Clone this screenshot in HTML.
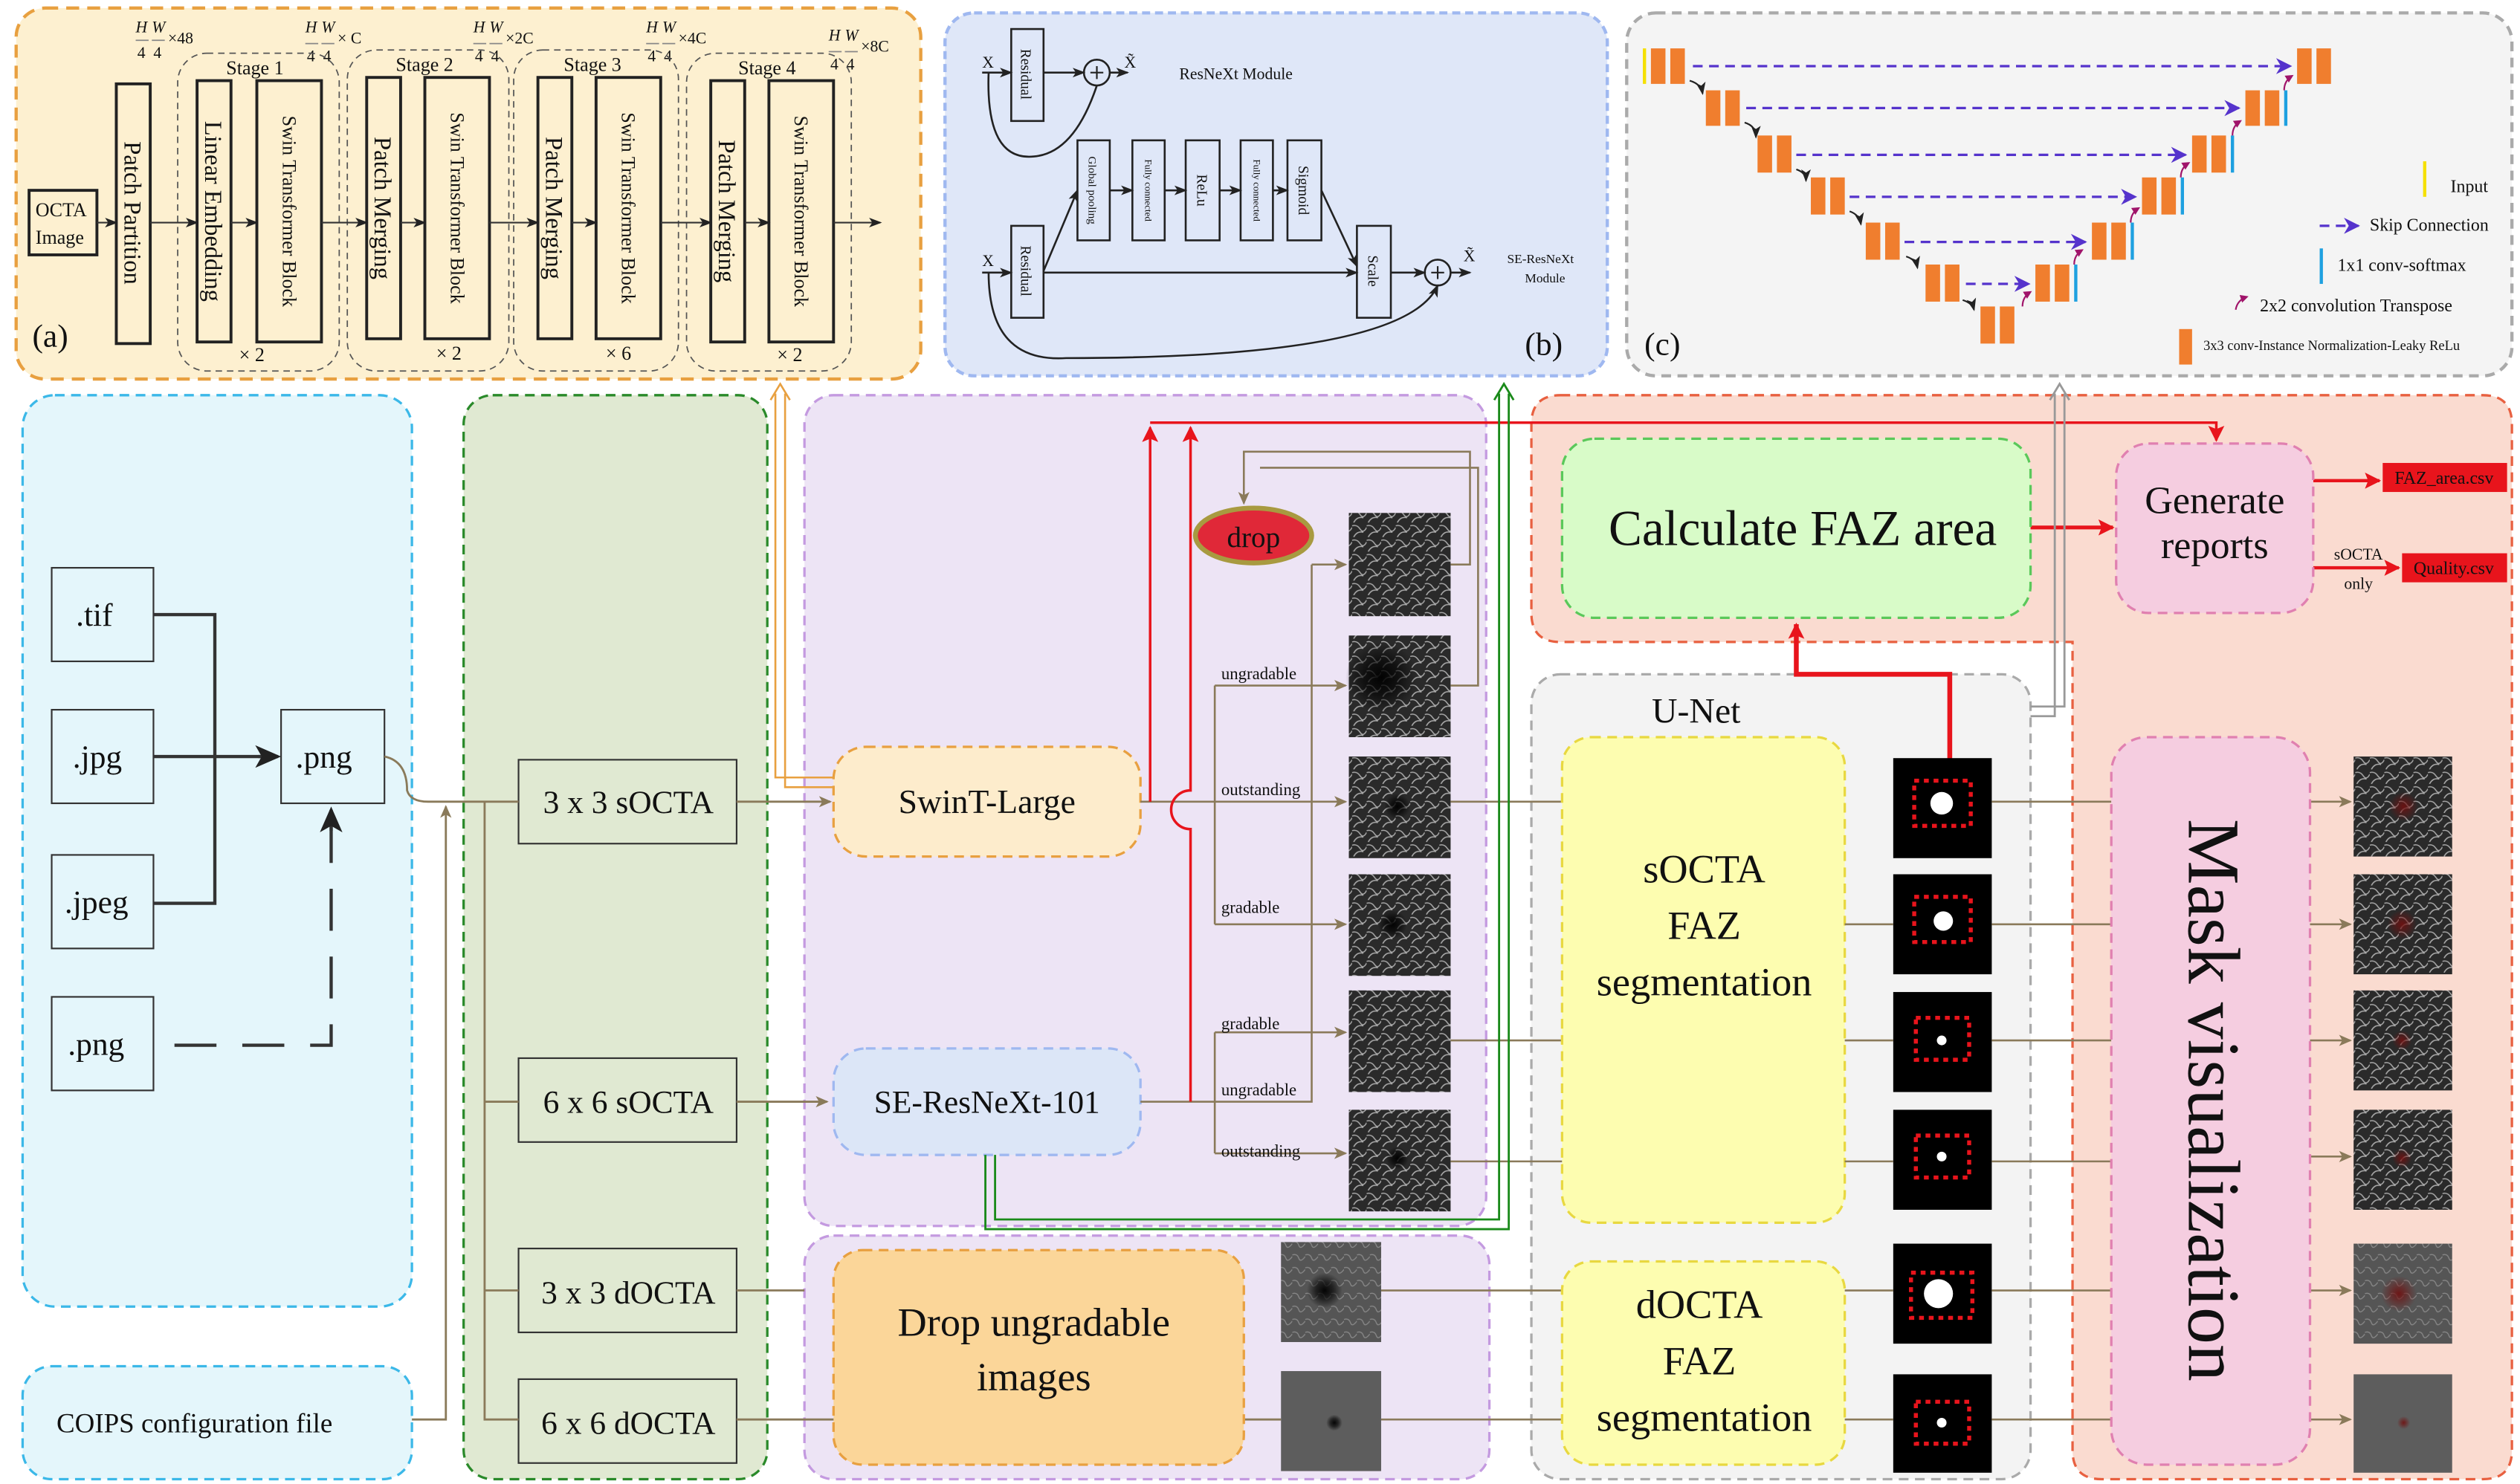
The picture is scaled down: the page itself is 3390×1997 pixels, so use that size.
<!DOCTYPE html>
<html><head><meta charset="utf-8">
<style>
html,body{margin:0;padding:0;background:#fff;}
svg{display:block;font-family:"Liberation Serif",serif;}
text{font-family:"Liberation Serif",serif;fill:#111;}
</style></head><body>
<svg width="3390" height="1997" viewBox="0 0 1560 920" preserveAspectRatio="none" xmlns="http://www.w3.org/2000/svg" font-family="Liberation Serif, serif">
<defs>
<marker id="a" markerWidth="8" markerHeight="8" refX="7" refY="4" orient="auto" markerUnits="userSpaceOnUse"><path d="M0,0.5 L8,4 L0,7.5 L2,4z" fill="#8a7a5a"/></marker>
<marker id="ak" markerWidth="8" markerHeight="8" refX="7" refY="4" orient="auto" markerUnits="userSpaceOnUse"><path d="M0,1 L8,4 L0,7 L2,4z" fill="#222"/></marker>
<marker id="ab" markerWidth="16" markerHeight="14" refX="14" refY="7" orient="auto" markerUnits="userSpaceOnUse"><path d="M0,0 L16,7 L0,14 L4,7z" fill="#222"/></marker>
<marker id="ar" markerWidth="10" markerHeight="10" refX="9" refY="5" orient="auto" markerUnits="userSpaceOnUse"><path d="M0,0 L10,5 L0,10 L2,5z" fill="#e8141c"/></marker>
<marker id="am" markerWidth="5" markerHeight="5" refX="4" refY="2.5" orient="auto" markerUnits="userSpaceOnUse"><path d="M0,0 L5,2.5 L0,5z" fill="#a0146a"/></marker>
<marker id="ap" markerWidth="10" markerHeight="10" refX="9" refY="5" orient="auto" markerUnits="userSpaceOnUse"><path d="M0,0 L10,5 L0,10 L3,5z" fill="#5533cc"/></marker>
<pattern id="ves" width="9" height="9" patternUnits="userSpaceOnUse"><rect width="9" height="9" fill="#2a2a2a"/><path d="M0,2 Q3,1 5,4 T9,3 M1,9 Q3,5 7,6" stroke="#aaa" stroke-width="0.7" fill="none"/></pattern>
<pattern id="dves" width="8" height="8" patternUnits="userSpaceOnUse"><rect width="8" height="8" fill="#555"/><path d="M0,2 Q3,1 4,4 T8,3" stroke="#888" stroke-width="0.6" fill="none"/></pattern>
<radialGradient id="spot"><stop offset="0" stop-color="#000" stop-opacity="0.95"/><stop offset="0.5" stop-color="#000" stop-opacity="0.6"/><stop offset="1" stop-color="#000" stop-opacity="0"/></radialGradient>
<radialGradient id="rspot"><stop offset="0" stop-color="#701010" stop-opacity="0.9"/><stop offset="1" stop-color="#701010" stop-opacity="0"/></radialGradient>
</defs>

<!-- panels -->
<rect x="10" y="5" width="560" height="230" rx="18" fill="#fdf0d0" stroke="#e8a040" stroke-width="2" stroke-dasharray="8,5"/>
<rect x="585" y="8" width="410" height="225" rx="18" fill="#dfe7f8" stroke="#9fb8f0" stroke-width="2" stroke-dasharray="5,3"/>
<rect x="1007" y="8" width="548" height="225" rx="18" fill="#f4f4f4" stroke="#aaa" stroke-width="2" stroke-dasharray="6,4"/>
<rect x="14" y="245" width="241" height="565" rx="20" fill="#e4f6fb" stroke="#3bb8e8" stroke-width="1.5" stroke-dasharray="6,4"/>
<rect x="14" y="847" width="241" height="70" rx="18" fill="#e4f6fb" stroke="#3bb8e8" stroke-width="1.5" stroke-dasharray="6,4"/>
<rect x="287" y="245" width="188" height="672" rx="18" fill="#e0e9d2" stroke="#2a8a2a" stroke-width="1.5" stroke-dasharray="6,4"/>
<rect x="498" y="245" width="422" height="515" rx="18" fill="#ede4f5" stroke="#c49ae0" stroke-width="1.5" stroke-dasharray="6,4"/>
<rect x="498" y="766" width="424" height="151" rx="18" fill="#ede4f5" stroke="#c49ae0" stroke-width="1.5" stroke-dasharray="6,4"/>
<path d="M966,245 H1537 Q1555,245 1555,263 V899 Q1555,917 1537,917 H1301 Q1283,917 1283,899 V398 H966 Q948,398 948,380 V263 Q948,245 966,245z" fill="#fadbd0" stroke="#e86040" stroke-width="1.5" stroke-dasharray="6,4"/>
<rect x="948" y="418" width="309" height="499" rx="18" fill="#f3f3f3" stroke="#aaa" stroke-width="1.5" stroke-dasharray="6,4"/>

<!-- Panel (a) -->
<g font-size="10">
<text x="84" y="20" font-style="italic">H</text><text x="94" y="20" font-style="italic">W</text><text x="104" y="27">×48</text>
<text x="189" y="20" font-style="italic">H</text><text x="199" y="20" font-style="italic">W</text><text x="209" y="27">× C</text>
<text x="293" y="20" font-style="italic">H</text><text x="303" y="20" font-style="italic">W</text><text x="313" y="27">×2C</text>
<text x="400" y="20" font-style="italic">H</text><text x="410" y="20" font-style="italic">W</text><text x="420" y="27">×4C</text>
<text x="513" y="25" font-style="italic">H</text><text x="523" y="25" font-style="italic">W</text><text x="533" y="32">×8C</text>
<text x="85" y="36">4</text><text x="95" y="36">4</text><text x="190" y="38">4</text><text x="200" y="38">4</text>
<text x="294" y="38">4</text><text x="304" y="38">4</text><text x="401" y="38">4</text><text x="411" y="38">4</text>
<text x="514" y="43">4</text><text x="524" y="43">4</text>
</g>
<g stroke="#888" stroke-width="0.8">
<line x1="84" y1="25" x2="92" y2="25"/><line x1="94" y1="25" x2="102" y2="25"/>
<line x1="189" y1="27" x2="197" y2="27"/><line x1="199" y1="27" x2="207" y2="27"/>
<line x1="293" y1="27" x2="301" y2="27"/><line x1="303" y1="27" x2="311" y2="27"/>
<line x1="400" y1="27" x2="408" y2="27"/><line x1="410" y1="27" x2="418" y2="27"/>
<line x1="513" y1="32" x2="521" y2="32"/><line x1="523" y1="32" x2="531" y2="32"/>
</g>
<g fill="none" stroke="#555" stroke-dasharray="4,3" stroke-width="0.8">
<rect x="110" y="33" width="100" height="197" rx="18"/><rect x="215" y="31" width="100" height="199" rx="18"/>
<rect x="318" y="31" width="102" height="199" rx="18"/><rect x="425" y="33" width="102" height="197" rx="18"/>
</g>
<g font-size="12"><text x="140" y="46">Stage 1</text><text x="245" y="44">Stage 2</text><text x="349" y="44">Stage 3</text><text x="457" y="46">Stage 4</text>
<text x="148" y="224">× 2</text><text x="270" y="223">× 2</text><text x="375" y="223">× 6</text><text x="481" y="224">× 2</text></g>
<g fill="none" stroke="#222" stroke-width="1.8">
<rect x="18" y="118" width="42" height="40"/><rect x="72" y="52" width="21" height="161"/>
<rect x="122" y="50" width="21" height="162"/><rect x="159" y="50" width="40" height="162"/>
<rect x="227" y="48" width="21" height="162"/><rect x="263" y="48" width="40" height="162"/>
<rect x="333" y="48" width="21" height="162"/><rect x="369" y="48" width="40" height="162"/>
<rect x="440" y="50" width="21" height="162"/><rect x="476" y="50" width="40" height="162"/>
</g>
<text x="22" y="134" font-size="12">OCTA</text><text x="22" y="151" font-size="12">Image</text>
<g font-size="15">
<text transform="translate(77,132) rotate(90)" text-anchor="middle">Patch Partition</text>
<text transform="translate(127,131) rotate(90)" text-anchor="middle">Linear Embedding</text>
<text transform="translate(232,129) rotate(90)" text-anchor="middle">Patch Merging</text>
<text transform="translate(338,129) rotate(90)" text-anchor="middle">Patch Merging</text>
<text transform="translate(445,131) rotate(90)" text-anchor="middle">Patch Merging</text>
</g>
<g font-size="12">
<text transform="translate(175,131) rotate(90)" text-anchor="middle">Swin Transformer Block</text>
<text transform="translate(279,129) rotate(90)" text-anchor="middle">Swin Transformer Block</text>
<text transform="translate(385,129) rotate(90)" text-anchor="middle">Swin Transformer Block</text>
<text transform="translate(492,131) rotate(90)" text-anchor="middle">Swin Transformer Block</text>
</g>
<g stroke="#333" stroke-width="1" marker-end="url(#ak)">
<line x1="60" y1="138" x2="72" y2="138"/><line x1="93" y1="138" x2="122" y2="138"/><line x1="143" y1="138" x2="159" y2="138"/>
<line x1="199" y1="138" x2="227" y2="138"/><line x1="248" y1="138" x2="263" y2="138"/><line x1="303" y1="138" x2="333" y2="138"/>
<line x1="354" y1="138" x2="369" y2="138"/><line x1="409" y1="138" x2="440" y2="138"/><line x1="461" y1="138" x2="476" y2="138"/>
<line x1="516" y1="138" x2="545" y2="138"/>
</g>
<text x="20" y="215" font-size="20">(a)</text>

<!-- Panel (b) -->
<g fill="none" stroke="#222" stroke-width="1.2">
<rect x="626" y="18" width="20" height="57"/><rect x="626" y="140" width="20" height="57"/>
<rect x="667" y="87" width="20" height="62"/><rect x="701" y="87" width="20" height="62"/><rect x="734" y="87" width="21" height="62"/>
<rect x="768" y="87" width="20" height="62"/><rect x="797" y="87" width="21" height="62"/><rect x="840" y="140" width="21" height="57"/>
<circle cx="679" cy="45" r="8"/><circle cx="890" cy="169" r="8"/>
<path d="M612,45 Q610,100 640,97 Q665,95 679,53"/>
<path d="M612,169 Q612,225 660,222 Q870,222 890,177" marker-end="url(#ak)"/>
<path d="M646,168 L667,118" marker-end="url(#ak)"/><path d="M818,118 L840,165" marker-end="url(#ak)"/>
</g>
<g stroke="#222" stroke-width="1.2" marker-end="url(#ak)">
<line x1="608" y1="45" x2="626" y2="45"/><line x1="646" y1="45" x2="671" y2="45"/><line x1="687" y1="45" x2="698" y2="45"/>
<line x1="608" y1="169" x2="626" y2="169"/><line x1="646" y1="169" x2="840" y2="169"/><line x1="861" y1="169" x2="882" y2="169"/><line x1="898" y1="169" x2="910" y2="169"/>
<line x1="687" y1="118" x2="701" y2="118"/><line x1="721" y1="118" x2="734" y2="118"/><line x1="755" y1="118" x2="768" y2="118"/><line x1="788" y1="118" x2="797" y2="118"/>
</g>
<line x1="675" y1="45" x2="683" y2="45" stroke="#222"/><line x1="679" y1="41" x2="679" y2="49" stroke="#222"/>
<line x1="886" y1="169" x2="894" y2="169" stroke="#222"/><line x1="890" y1="165" x2="890" y2="173" stroke="#222"/>
<g font-size="10"><text x="608" y="42">X</text><text x="608" y="165">X</text><text x="696" y="42">X̃</text><text x="906" y="162">X̃</text>
<text x="730" y="49">ResNeXt Module</text><text x="933" y="163" font-size="8">SE-ResNeXt</text><text x="944" y="175" font-size="8">Module</text></g>
<g font-size="9">
<text transform="translate(632,46) rotate(90)" text-anchor="middle">Residual</text>
<text transform="translate(632,168) rotate(90)" text-anchor="middle">Residual</text>
<text transform="translate(674,118) rotate(90)" text-anchor="middle" font-size="7">Global pooling</text>
<text transform="translate(709,118) rotate(90)" text-anchor="middle" font-size="6">Fully connected</text>
<text transform="translate(741,118) rotate(90)" text-anchor="middle">ReLu</text>
<text transform="translate(776,118) rotate(90)" text-anchor="middle" font-size="6">Fully connected</text>
<text transform="translate(804,118) rotate(90)" text-anchor="middle">Sigmoid</text>
<text transform="translate(847,168) rotate(90)" text-anchor="middle">Scale</text>
</g>
<text x="944" y="220" font-size="20">(b)</text>

<!-- Panel (c) U-Net -->
<g fill="#f07e2e">
<rect x="1022" y="30" width="9" height="22"/><rect x="1034" y="30" width="9" height="22"/>
<rect x="1056" y="56" width="9" height="22"/><rect x="1068" y="56" width="9" height="22"/>
<rect x="1088" y="84" width="9" height="23"/><rect x="1100" y="84" width="9" height="23"/>
<rect x="1121" y="110" width="9" height="23"/><rect x="1133" y="110" width="9" height="23"/>
<rect x="1155" y="138" width="9" height="23"/><rect x="1167" y="138" width="9" height="23"/>
<rect x="1192" y="164" width="9" height="23"/><rect x="1204" y="164" width="9" height="23"/>
<rect x="1226" y="190" width="9" height="23"/><rect x="1238" y="190" width="9" height="23"/>
<rect x="1422" y="30" width="9" height="22"/><rect x="1434" y="30" width="9" height="22"/>
<rect x="1390" y="56" width="9" height="22"/><rect x="1402" y="56" width="9" height="22"/>
<rect x="1357" y="84" width="9" height="23"/><rect x="1369" y="84" width="9" height="23"/>
<rect x="1326" y="110" width="9" height="23"/><rect x="1338" y="110" width="9" height="23"/>
<rect x="1295" y="138" width="9" height="23"/><rect x="1307" y="138" width="9" height="23"/>
<rect x="1260" y="164" width="9" height="23"/><rect x="1272" y="164" width="9" height="23"/>
<rect x="1349" y="204" width="8" height="22"/>
</g>
<g fill="#1ea0e0"><rect x="1414" y="56" width="2" height="22"/><rect x="1381" y="84" width="2" height="23"/><rect x="1350" y="110" width="2" height="23"/><rect x="1319" y="138" width="2" height="23"/><rect x="1284" y="164" width="2" height="23"/><rect x="1436" y="154" width="2" height="22"/></g>
<rect x="1017" y="30" width="2" height="22" fill="#f5e000"/><rect x="1500" y="100" width="2" height="22" fill="#f5e000"/>
<g stroke="#5533cc" stroke-width="1.5" stroke-dasharray="6,4" marker-end="url(#ap)">
<line x1="1048" y1="41" x2="1418" y2="41"/><line x1="1081" y1="67" x2="1386" y2="67"/><line x1="1112" y1="96" x2="1353" y2="96"/>
<line x1="1145" y1="122" x2="1322" y2="122"/><line x1="1179" y1="150" x2="1291" y2="150"/><line x1="1217" y1="176" x2="1256" y2="176"/>
<line x1="1436" y1="140" x2="1460" y2="140"/>
</g>
<g fill="none" stroke="#222" stroke-width="1" marker-end="url(#ak)">
<path d="M1046,50 Q1053,52 1054,58"/><path d="M1080,76 Q1087,78 1087,85"/><path d="M1112,105 Q1118,107 1118,112"/><path d="M1145,131 Q1151,133 1152,139"/><path d="M1180,159 Q1186,161 1187,166"/><path d="M1215,186 Q1221,188 1222,192"/>
</g>
<g fill="none" stroke="#a0146a" stroke-width="1" marker-end="url(#am)">
<path d="M1414,56 Q1414,50 1419,47"/><path d="M1382,84 Q1382,78 1387,75"/><path d="M1350,110 Q1350,104 1355,101"/><path d="M1319,138 Q1319,132 1324,129"/><path d="M1284,164 Q1284,158 1289,155"/><path d="M1252,190 Q1252,184 1257,181"/><path d="M1384,192 Q1385,186 1391,184"/>
</g>
<g font-size="11"><text x="1517" y="119">Input</text><text x="1467" y="143">Skip Connection</text><text x="1447" y="168">1x1 conv-softmax</text><text x="1399" y="193">2x2 convolution Transpose</text><text x="1364" y="217" font-size="8.5">3x3 conv-Instance Normalization-Leaky ReLu</text></g>
<text x="1018" y="220" font-size="20">(c)</text>

<!-- left panel -->
<g fill="#e4f6fb" stroke="#333" stroke-width="1"><rect x="32" y="352" width="63" height="58"/><rect x="32" y="440" width="63" height="58"/><rect x="32" y="530" width="63" height="58"/><rect x="32" y="618" width="63" height="58"/><rect x="174" y="440" width="64" height="58"/></g>
<g font-size="20"><text x="47" y="388">.tif</text><text x="45" y="476">.jpg</text><text x="40" y="566">.jpeg</text><text x="42" y="654">.png</text><text x="183" y="476">.png</text></g>
<path d="M95,381 H133 V560 H95 M95,469 H171" fill="none" stroke="#333" stroke-width="2"/>
<path d="M160,469 H172" stroke="#333" stroke-width="2" marker-end="url(#ab)"/>
<path d="M108,648 H205 V505" fill="none" stroke="#333" stroke-width="2" stroke-dasharray="26,16"/>
<path d="M205,515 V502" stroke="#333" stroke-width="2" marker-end="url(#ab)"/>
<text x="35" y="888" font-size="17">COIPS configuration file</text>

<!-- green -->
<g fill="#e0e9d2" stroke="#333" stroke-width="1"><rect x="321" y="471" width="135" height="52"/><rect x="321" y="656" width="135" height="52"/><rect x="321" y="774" width="135" height="52"/><rect x="321" y="855" width="135" height="52"/></g>
<g font-size="20" text-anchor="middle"><text x="389" y="504">3 x 3 sOCTA</text><text x="389" y="690">6 x 6 sOCTA</text><text x="389" y="808">3 x 3 dOCTA</text><text x="389" y="889">6 x 6 dOCTA</text></g>
<g fill="none" stroke="#8a7a5a" stroke-width="1.3">
<path d="M238,469 Q252,472 252,490 Q254,497 265,497 H321"/>
<path d="M300,497 V880 H321 M300,683 H321 M300,800 H321"/>
<path d="M255,880 H276 V500" marker-end="url(#a)"/>
<path d="M456,497 H514" marker-end="url(#a)"/><path d="M456,683 H512" marker-end="url(#a)"/>
<path d="M456,800 H498"/><path d="M456,880 H793"/>
</g>

<!-- purple -->
<rect x="516" y="463" width="190" height="68" rx="20" fill="#fdeccc" stroke="#e8a040" stroke-width="1.5" stroke-dasharray="6,4"/>
<rect x="516" y="650" width="190" height="66" rx="20" fill="#dce6f7" stroke="#9fb8f0" stroke-width="1.5" stroke-dasharray="6,4"/>
<rect x="516" y="775" width="254" height="133" rx="18" fill="#fbd699" stroke="#e8a040" stroke-width="1.5" stroke-dasharray="6,4"/>
<text x="611" y="504" font-size="21" text-anchor="middle">SwinT-Large</text>
<text x="611" y="690" font-size="20" text-anchor="middle">SE-ResNeXt-101</text>
<text x="640" y="828" font-size="25" text-anchor="middle">Drop ungradable</text><text x="640" y="862" font-size="25" text-anchor="middle">images</text>

<!-- images in purple -->
<g>
<rect x="835" y="318" width="63" height="64" fill="url(#ves)"/>
<rect x="835" y="394" width="63" height="63" fill="url(#ves)"/><ellipse cx="855" cy="420" rx="22" ry="22" fill="url(#spot)"/>
<rect x="835" y="469" width="63" height="63" fill="url(#ves)"/><circle cx="865" cy="500" r="8" fill="url(#spot)"/>
<rect x="835" y="542" width="63" height="63" fill="url(#ves)"/><circle cx="862" cy="573" r="9" fill="url(#spot)"/>
<rect x="835" y="614" width="63" height="63" fill="url(#ves)"/>
<rect x="835" y="688" width="63" height="63" fill="url(#ves)"/><circle cx="865" cy="718" r="7" fill="url(#spot)"/>
<rect x="793" y="770" width="62" height="62" fill="url(#dves)"/><circle cx="820" cy="800" r="11" fill="url(#spot)"/>
<rect x="793" y="850" width="62" height="62" fill="#5d5d5d"/><circle cx="826" cy="882" r="5" fill="url(#spot)"/>
</g>
<ellipse cx="776" cy="332" rx="36" ry="17" fill="#e02838" stroke="#a89a40" stroke-width="3"/>
<text x="776" y="339" font-size="18" text-anchor="middle">drop</text>
<g fill="none" stroke="#8a7a5a" stroke-width="1.2">
<path d="M706,497 H752 M752,425 V573"/>
<path d="M752,425 H833" marker-end="url(#a)"/><path d="M752,497 H833" marker-end="url(#a)"/><path d="M752,573 H833" marker-end="url(#a)"/>
<path d="M706,683 H752 M752,640 V715"/>
<path d="M752,640 H833" marker-end="url(#a)"/><path d="M752,715 H833" marker-end="url(#a)"/>
<path d="M752,683 H812 V350"/><path d="M812,350 H833" marker-end="url(#a)"/>
<path d="M898,350 H910 V280 H770 V312" marker-end="url(#a)"/>
<path d="M898,425 H915 V290 H780"/>
<path d="M898,497 H967 M898,645 H967 M898,720 H967 M855,800 H967 M855,880 H967"/>
</g>
<g font-size="10.5"><text x="756" y="421">ungradable</text><text x="756" y="493">outstanding</text><text x="756" y="566">gradable</text><text x="756" y="638">gradable</text><text x="756" y="679">ungradable</text><text x="756" y="717">outstanding</text></g>

<!-- red lines -->
<g fill="none" stroke="#e8141c" stroke-width="1.6">
<path d="M712,497 V265" marker-end="url(#ar)"/>
<path d="M737,683 V514 A10,10 0 0 1 737,490 V265" marker-end="url(#ar)"/>
<path d="M712,262 H1372 V273" marker-end="url(#ar)"/>
<path d="M1257,327 H1308" stroke-width="2.4" marker-end="url(#ar)"/>
<path d="M1432,298 H1473" stroke-width="2" marker-end="url(#ar)"/>
<path d="M1432,352 H1485" stroke-width="2" marker-end="url(#ar)"/>
<path d="M1207,490 V418 H1112 V387" stroke-width="3" marker-end="url(#ar)"/>
</g>
<!-- double lines -->
<g fill="none" stroke="#e8a040" stroke-width="1.2"><path d="M516,482 H480 V244"/><path d="M516,488 H486 V244"/></g>
<path d="M477,248 L483,238 L489,248" fill="none" stroke="#e8a040" stroke-width="1.2"/>
<g fill="none" stroke="#1a8a1a" stroke-width="1.3"><path d="M610,716 V762 H934 V244"/><path d="M616,716 V756 H928 V244"/></g>
<path d="M925,248 L931,238 L937,248" fill="none" stroke="#1a8a1a" stroke-width="1.3"/>
<g fill="none" stroke="#999" stroke-width="1.3"><path d="M1257,438 H1278 V244"/><path d="M1257,444 H1272 V244"/></g>
<path d="M1269,248 L1275,238 L1281,248" fill="none" stroke="#999" stroke-width="1.3"/>

<!-- red panel contents -->
<rect x="967" y="272" width="290" height="111" rx="20" fill="#d8fbc8" stroke="#5ac85a" stroke-width="1.5" stroke-dasharray="6,4"/>
<text x="1116" y="338" font-size="31" text-anchor="middle">Calculate FAZ area</text>
<rect x="1310" y="275" width="122" height="105" rx="20" fill="#f5cde0" stroke="#e080b0" stroke-width="1.5" stroke-dasharray="6,4"/>
<text x="1371" y="318" font-size="24" text-anchor="middle">Generate</text><text x="1371" y="346" font-size="24" text-anchor="middle">reports</text>
<rect x="1475" y="287" width="77" height="18" fill="#e8141c"/><text x="1513" y="300" font-size="11" text-anchor="middle">FAZ_area.csv</text>
<rect x="1487" y="343" width="65" height="18" fill="#e8141c"/><text x="1519" y="356" font-size="11" text-anchor="middle">Quality.csv</text>
<text x="1460" y="347" font-size="10" text-anchor="middle">sOCTA</text><text x="1460" y="365" font-size="10" text-anchor="middle">only</text>

<text x="1050" y="448" font-size="22" text-anchor="middle">U-Net</text>
<rect x="967" y="457" width="175" height="301" rx="18" fill="#fdfdb0" stroke="#e8d840" stroke-width="1.5" stroke-dasharray="6,4"/>
<rect x="967" y="782" width="175" height="126" rx="18" fill="#fdfdb0" stroke="#e8d840" stroke-width="1.5" stroke-dasharray="6,4"/>
<g font-size="25" text-anchor="middle"><text x="1055" y="547">sOCTA</text><text x="1055" y="582">FAZ</text><text x="1055" y="617">segmentation</text>
<text x="1052" y="817">dOCTA</text><text x="1052" y="852">FAZ</text><text x="1055" y="887">segmentation</text></g>

<!-- masks -->
<g>
<rect x="1172" y="470" width="61" height="62" fill="#000"/><rect x="1185" y="484" width="35" height="28" fill="none" stroke="#e8141c" stroke-width="2.5" stroke-dasharray="3,3"/><circle cx="1202" cy="498" r="7" fill="#fff"/>
<rect x="1172" y="542" width="61" height="62" fill="#000"/><rect x="1185" y="556" width="35" height="28" fill="none" stroke="#e8141c" stroke-width="2.5" stroke-dasharray="3,3"/><circle cx="1203" cy="571" r="6" fill="#fff"/>
<rect x="1172" y="615" width="61" height="62" fill="#000"/><rect x="1186" y="631" width="33" height="26" fill="none" stroke="#e8141c" stroke-width="2.5" stroke-dasharray="3,3"/><circle cx="1202" cy="645" r="3" fill="#fff"/>
<rect x="1172" y="688" width="61" height="62" fill="#000"/><rect x="1186" y="704" width="33" height="26" fill="none" stroke="#e8141c" stroke-width="2.5" stroke-dasharray="3,3"/><circle cx="1202" cy="717" r="3" fill="#fff"/>
<rect x="1172" y="771" width="61" height="62" fill="#000"/><rect x="1183" y="789" width="38" height="28" fill="none" stroke="#e8141c" stroke-width="2.5" stroke-dasharray="3,3"/><circle cx="1200" cy="802" r="9" fill="#fff"/>
<rect x="1172" y="852" width="61" height="61" fill="#000"/><rect x="1186" y="869" width="33" height="26" fill="none" stroke="#e8141c" stroke-width="2.5" stroke-dasharray="3,3"/><circle cx="1202" cy="882" r="3" fill="#fff"/>
</g>
<g fill="none" stroke="#8a7a5a" stroke-width="1.2">
<path d="M1142,573 H1172 M1142,645 H1172 M1142,720 H1172 M1142,800 H1172 M1142,880 H1172"/>
<path d="M1233,497 H1307 M1233,573 H1307 M1233,645 H1307 M1233,720 H1307 M1233,800 H1307 M1233,880 H1307"/>
<path d="M1430,497 H1455" marker-end="url(#a)"/><path d="M1430,573 H1455" marker-end="url(#a)"/><path d="M1430,645 H1455" marker-end="url(#a)"/>
<path d="M1430,717 H1455" marker-end="url(#a)"/><path d="M1430,800 H1455" marker-end="url(#a)"/><path d="M1430,880 H1455" marker-end="url(#a)"/>
</g>
<rect x="1307" y="457" width="123" height="451" rx="22" fill="#f5cde0" stroke="#e080b0" stroke-width="1.5" stroke-dasharray="6,4"/>
<text transform="translate(1355,682) rotate(90)" font-size="46" text-anchor="middle">Mask visualization</text>
<g>
<rect x="1457" y="469" width="61" height="62" fill="url(#ves)"/><circle cx="1488" cy="500" r="9" fill="url(#rspot)"/>
<rect x="1457" y="542" width="61" height="62" fill="url(#ves)"/><circle cx="1487" cy="573" r="9" fill="url(#rspot)"/>
<rect x="1457" y="614" width="61" height="62" fill="url(#ves)"/><circle cx="1487" cy="645" r="6" fill="url(#rspot)"/>
<rect x="1457" y="688" width="61" height="62" fill="url(#ves)"/><circle cx="1487" cy="718" r="6" fill="url(#rspot)"/>
<rect x="1457" y="771" width="61" height="62" fill="url(#dves)"/><circle cx="1485" cy="802" r="11" fill="url(#rspot)"/>
<rect x="1457" y="852" width="61" height="61" fill="#5d5d5d"/><circle cx="1488" cy="882" r="4" fill="url(#rspot)"/>
</g>
</svg>
</body></html>
